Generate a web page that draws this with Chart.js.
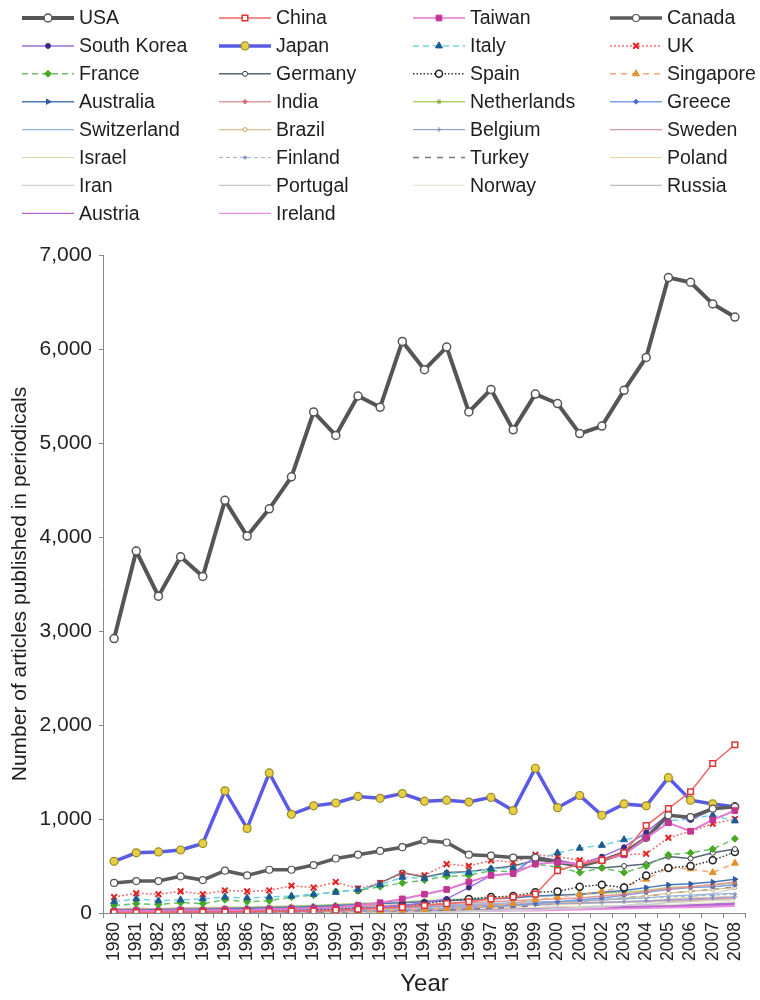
<!DOCTYPE html>
<html>
<head>
<meta charset="utf-8">
<title>Articles published in periodicals by country, 1980–2008</title>
<script src="https://cdn.jsdelivr.net/npm/chart.js@4/dist/chart.umd.min.js"></script>
<style>
  html, body { margin: 0; padding: 0; background: #ffffff; }
  #wrap { width: 760px; height: 1000px; }
</style>
</head>
<body>
<div id="wrap"><canvas id="chart" width="760" height="1000"></canvas></div>
<script>
// Years on the x axis
const years = [1980,1981,1982,1983,1984,1985,1986,1987,1988,1989,1990,1991,1992,1993,1994,
               1995,1996,1997,1998,1999,2000,2001,2002,2003,2004,2005,2006,2007,2008];

// Number of articles per country and year
const usa         = [2920,3850,3370,3790,3580,4390,4010,4300,4640,5330,5080,5500,5380,6080,5780,6020,5330,5570,5140,5520,5420,5100,5180,5560,5910,6760,6710,6480,6340];
const china       = [5,5,5,10,10,10,15,15,20,20,30,40,50,60,80,100,120,150,170,200,450,520,560,640,930,1110,1290,1590,1790];
const taiwan      = [20,25,20,30,25,35,30,40,45,50,60,80,110,150,200,250,330,400,420,520,540,520,570,620,800,960,870,990,1090];
const canada      = [320,340,340,390,350,450,400,460,460,510,580,620,660,700,770,750,620,610,590,590,540,500,560,640,800,1040,1020,1110,1130];
const southKorea  = [5,5,5,5,10,10,10,15,15,20,30,40,60,80,110,150,270,400,420,600,560,520,600,700,860,1050,990,1100,1150];
const japan       = [550,640,650,670,740,1300,900,1490,1050,1140,1170,1240,1220,1270,1190,1200,1180,1230,1090,1540,1120,1250,1040,1160,1140,1440,1200,1160,1130];
const italy       = [120,150,130,140,150,170,160,170,180,200,220,250,300,380,370,420,430,470,480,560,640,690,720,780,820,980,1000,1040,980];
const uk          = [170,210,200,230,200,240,230,240,290,270,330,260,320,420,400,520,500,560,540,620,600,560,560,620,630,800,870,950,1000];
const france      = [80,100,90,110,100,140,120,130,170,190,230,240,280,320,350,390,400,450,440,520,490,430,480,430,500,620,640,680,790];
const germany     = [null,null,null,null,null,null,null,null,null,null,null,230,320,430,380,430,440,470,500,560,540,490,480,500,520,600,580,640,680];
const spain       = [10,10,10,15,15,20,20,25,30,35,40,50,60,80,100,130,150,170,180,220,230,280,300,270,400,480,500,560,650];
const singapore   = [5,5,5,5,5,5,10,10,10,15,15,20,20,30,40,50,60,80,100,140,170,200,230,280,360,480,470,430,530];
const australia   = [30,35,35,40,40,45,50,55,60,70,80,90,100,110,120,130,140,150,160,180,190,200,220,240,270,300,310,330,360];
const india       = [40,45,45,50,50,55,55,60,60,65,70,75,80,85,90,100,110,120,130,140,150,160,180,200,230,260,280,300,330];
const netherlands = [40,50,45,50,55,60,60,70,75,80,90,100,110,120,130,140,150,160,170,180,190,200,210,220,240,270,280,300,320];
const greece      = [5,5,5,5,10,10,10,10,15,15,20,20,25,30,40,50,60,70,80,100,120,140,160,190,220,250,270,280,300];
const switzerland = [30,35,35,40,40,45,45,50,55,60,60,65,70,75,80,90,95,100,110,120,120,130,140,150,160,180,190,200,210];
const brazil      = [5,5,5,10,10,10,10,15,15,20,20,25,30,35,40,50,60,70,80,100,110,120,140,160,180,210,230,250,270];
const belgium     = [20,25,25,25,30,30,35,35,40,40,45,50,55,60,65,70,75,80,85,90,100,105,110,120,130,140,150,160,170];
const sweden      = [30,30,35,35,40,40,45,45,50,55,55,60,65,70,75,80,85,90,95,100,105,110,115,120,125,135,140,150,160];
const israel      = [20,25,25,25,30,30,35,35,40,45,50,55,60,65,70,75,80,85,90,95,100,105,110,115,120,125,130,135,140];
const finland     = [10,10,15,15,15,20,20,25,25,30,35,40,45,50,60,70,80,90,100,110,120,130,140,150,160,170,180,190,200];
const turkey      = [0,0,0,0,5,5,5,5,10,10,10,15,15,20,25,30,40,50,60,80,100,120,140,160,180,210,230,250,280];
const poland      = [10,10,10,10,10,15,15,15,15,20,20,25,30,35,40,50,55,60,70,80,90,100,110,120,130,150,160,170,180];
const iran        = [0,0,0,0,0,0,0,0,0,0,0,5,5,5,10,10,15,20,25,30,40,50,60,80,110,140,170,210,260];
const portugal    = [0,0,0,0,0,5,5,5,5,5,10,10,10,15,15,20,25,30,35,40,50,60,70,80,90,110,120,140,160];
const norway      = [10,10,10,15,15,15,20,20,20,25,25,30,30,35,35,40,45,50,55,60,65,70,75,80,85,90,100,110,120];
const russia      = [null,null,null,null,null,null,null,null,null,null,null,null,40,50,60,70,80,80,90,90,100,100,110,110,120,120,130,140,150];
const austria     = [10,10,10,15,15,15,20,20,20,25,25,30,30,35,35,40,40,45,45,50,55,60,65,70,75,80,85,90,100];
const ireland     = [5,5,5,5,5,5,5,10,10,10,10,15,15,15,20,20,25,25,30,30,35,40,45,50,55,60,65,70,80];

const yTicks = [0,1000,2000,3000,4000,5000,6000,7000];

const FONT = "'Liberation Sans', Arial, sans-serif";

// Line / marker styling per series; keyWidth is the stroke used in the legend key
function series(label, data, color, width, opts) {
  opts = opts || {};
  return {
    label: label,
    data: data,
    borderColor: color,
    borderWidth: width,
    keyWidth: opts.keyWidth || width,
    borderDash: opts.dash || [],
    pointStyle: opts.point || false,
    pointRadius: opts.point ? (opts.r || 3) : 0,
    pointHoverRadius: opts.point ? (opts.r || 3) : 0,
    pointBackgroundColor: opts.fill || color,
    pointBorderColor: opts.stroke || color,
    pointBorderWidth: opts.pbw || 1,
    pointRotation: opts.rot || 0,
    tension: 0,
    spanGaps: false,
    fill: false
  };
}

const datasets = [
  series('USA', usa, '#555555', 4, {point:'circle', r:4, fill:'#ffffff', stroke:'#555555', pbw:1.5}),
  series('China', china, '#f26666', 1.5, {point:'rect', r:4, fill:'#ffffff', stroke:'#e03434', pbw:1.5}),
  series('Taiwan', taiwan, '#e27ad2', 2, {point:'rect', r:4, fill:'#c23592', stroke:'#c23592', keyWidth:1.5}),
  series('Canada', canada, '#5c5c5c', 3.5, {point:'circle', r:3.5, fill:'#ffffff', stroke:'#555555', pbw:1.2}),
  series('South Korea', southKorea, '#9b6ee0', 1.5, {point:'circle', r:2.5, fill:'#3a2c84', stroke:'#3a2c84'}),
  series('Japan', japan, '#5a5ae8', 3.5, {point:'circle', r:4, fill:'#e6cf42', stroke:'#9c8a22', pbw:1.2}),
  series('Italy', italy, '#6fd2e2', 1.5, {dash:[6,4], point:'triangle', r:4, fill:'#1c5a92', stroke:'#1c5a92'}),
  series('UK', uk, '#ee7070', 1.5, {dash:[2,2], point:'crossRot', r:4, stroke:'#e02222', pbw:2}),
  series('France', france, '#6cc06c', 1.5, {dash:[6,4], point:'rectRot', r:3.5, fill:'#44aa22', stroke:'#44aa22'}),
  series('Germany', germany, '#556677', 1.5, {point:'circle', r:2.5, fill:'#ffffff', stroke:'#3a3a3a'}),
  series('Spain', spain, '#333333', 1.5, {dash:[1.5,2], point:'circle', r:3.5, fill:'#ffffff', stroke:'#222222', pbw:1.5}),
  series('Singapore', singapore, '#f2a878', 1.5, {dash:[6,5], point:'triangle', r:4, fill:'#e0922e', stroke:'#e0922e'}),
  series('Australia', australia, '#4a78bb', 1.5, {point:'triangle', r:3, rot:90, fill:'#2d5a9e', stroke:'#2d5a9e'}),
  series('India', india, '#e29a9a', 1.5, {point:'circle', r:1.8, fill:'#d07070', stroke:'#d07070'}),
  series('Netherlands', netherlands, '#b2cf72', 1.5, {point:'star', r:2.5, fill:'#7aaa30', stroke:'#7aaa30'}),
  series('Greece', greece, '#7d9ee0', 1.5, {point:'rectRot', r:2.5, fill:'#4a6ad0', stroke:'#4a6ad0'}),
  series('Switzerland', switzerland, '#95b6dc', 1.2),
  series('Brazil', brazil, '#dcbf8e', 1.2, {point:'circle', r:2, fill:'#ffffff', stroke:'#c9a060'}),
  series('Belgium', belgium, '#97a6cf', 1.2, {point:'cross', r:2.5, stroke:'#7788bb'}),
  series('Sweden', sweden, '#d592b2', 1.2),
  series('Israel', israel, '#d8dab2', 1.2),
  series('Finland', finland, '#a5b5cf', 1.2, {dash:[4,3], point:'circle', r:1.5, fill:'#8899bb', stroke:'#8899bb'}),
  series('Turkey', turkey, '#7a7a7a', 1.5, {dash:[6,6]}),
  series('Poland', poland, '#f0d2a6', 1.2),
  series('Iran', iran, '#d0d0d0', 1.2),
  series('Portugal', portugal, '#c8c8c8', 1.2),
  series('Norway', norway, '#e8e8cc', 1.2),
  series('Russia', russia, '#bcbcbc', 1.2),
  series('Austria', austria, '#b06ad2', 2.5, {keyWidth:1.2}),
  series('Ireland', ireland, '#ee8ee0', 2.5, {keyWidth:1.2})
];

// Four-column legend drawn above the plot area
const gridLegend = {
  id: 'gridLegend',
  afterDraw(chart) {
    const ctx = chart.ctx;
    const colX = [22, 219, 413, 610];
    const sampleLen = 52;
    const rowY0 = 18, rowStep = 27.9;
    ctx.save();
    chart.data.datasets.forEach((ds, i) => {
      const col = i % 4, row = Math.floor(i / 4);
      const x = colX[col], y = rowY0 + row * rowStep;
      ctx.save();
      ctx.strokeStyle = ds.borderColor;
      ctx.lineWidth = ds.keyWidth;
      ctx.setLineDash(ds.borderDash || []);
      ctx.beginPath();
      ctx.moveTo(x, y);
      ctx.lineTo(x + sampleLen, y);
      ctx.stroke();
      ctx.setLineDash([]);
      if (ds.pointStyle) {
        ctx.fillStyle = ds.pointBackgroundColor;
        ctx.strokeStyle = ds.pointBorderColor;
        ctx.lineWidth = ds.pointBorderWidth;
        Chart.helpers.drawPoint(ctx, {
          pointStyle: ds.pointStyle,
          radius: ds.pointRadius,
          borderWidth: ds.pointBorderWidth,
          rotation: ds.pointRotation
        }, x + sampleLen / 2, y);
      }
      ctx.restore();
      ctx.fillStyle = '#1e1e1e';
      ctx.font = '19.5px ' + FONT;
      ctx.textAlign = 'left';
      ctx.textBaseline = 'middle';
      ctx.fillText(ds.label, x + sampleLen + 5, y + 1);
    });
    ctx.restore();
  }
};

new Chart(document.getElementById('chart'), {
  type: 'line',
  data: { labels: years, datasets: datasets },
  plugins: [gridLegend],
  options: {
    responsive: false,
    animation: false,
    devicePixelRatio: 1,
    layout: { padding: { top: 255, left: 0, right: 0, bottom: 0 } },
    plugins: {
      legend: { display: false },
      tooltip: { enabled: false }
    },
    scales: {
      x: {
        type: 'category',
        offset: true,
        border: { display: true, color: '#888888', width: 1 },
        grid: { display: true, offset: true, drawOnChartArea: false, drawTicks: true, tickLength: 5, color: '#888888' },
        ticks: {
          minRotation: 90, maxRotation: 90, autoSkip: false, padding: 4,
          color: '#222222', font: { family: FONT, size: 17.5 }
        },
        title: {
          display: true, text: 'Year', color: '#1e1e1e',
          font: { family: FONT, size: 24 }, padding: { top: 0, bottom: 1 }
        },
        afterFit(scale) { scale.height = 87; }
      },
      y: {
        min: 0, max: 7000,
        border: { display: true, color: '#888888', width: 1 },
        grid: { display: true, drawOnChartArea: false, drawTicks: true, tickLength: 4, color: '#888888' },
        afterBuildTicks(scale) { scale.ticks = yTicks.map(v => ({ value: v })); },
        ticks: {
          padding: 7, color: '#222222', font: { family: FONT, size: 21 },
          callback: v => v.toLocaleString('en-US')
        },
        title: {
          display: true, text: 'Number of articles published in periodicals', color: '#1e1e1e',
          font: { family: FONT, size: 21 }, padding: { top: 8, bottom: 0 }
        },
        afterFit(scale) { scale.width = 103; }
      }
    }
  }
});
</script>
</body>
</html>
